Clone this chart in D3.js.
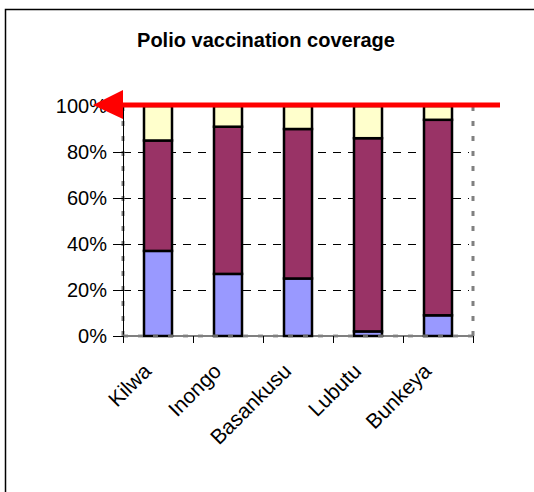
<!DOCTYPE html>
<html>
<head>
<meta charset="utf-8">
<script src="https://cdn.jsdelivr.net/npm/d3@7"></script>
<style>
  html, body { margin: 0; padding: 0; background: #fff; }
  svg { display: block; font-family: Arial, "Liberation Sans", sans-serif; }
</style>
</head>
<body>
<svg id="chart" width="534" height="492"></svg>
<script>
// Polio vaccination coverage by health zone (shares of children, %)
const districts = ["Kilwa", "Inongo", "Basankusu", "Lubutu", "Bunkeya"];
const seriesKeys = ["low", "mid", "none"];
const lowShare  = [37, 27, 25, 2, 9];
const midShare  = [48, 64, 65, 84, 85];
const noneShare = [15, 9, 10, 14, 6];
const yTicks = [0, 20, 40, 60, 80, 100];
const seriesColors = { low: "#9999FF", mid: "#993366", none: "#FFFFCC" };

const rows = districts.map((d, i) => ({
  district: d, low: lowShare[i], mid: midShare[i], none: noneShare[i]
}));

const svg = d3.select("#chart");
const W = 534, H = 492;
const plot = { left: 123, right: 473, top: 106, bottom: 336 };

svg.append("rect").attr("width", W).attr("height", H).attr("fill", "#fff");

// outer chart frame
svg.append("rect")
  .attr("x", 5.5).attr("y", 9.5)
  .attr("width", 560).attr("height", 520)
  .attr("fill", "none").attr("stroke", "#000").attr("stroke-width", 1.5);

svg.append("text")
  .attr("x", 266).attr("y", 47)
  .attr("text-anchor", "middle")
  .attr("font-size", 20).attr("font-weight", "bold")
  .text("Polio vaccination coverage");

const x = d3.scaleBand()
  .domain(districts)
  .range([plot.left, plot.right])
  .paddingInner(0.6).paddingOuter(0.3);

const y = d3.scaleLinear().domain([0, 100]).range([plot.bottom, plot.top]);

// horizontal gridlines
svg.append("g").selectAll("line")
  .data(yTicks.filter(t => t > 0 && t < 100))
  .join("line")
  .attr("x1", plot.left).attr("x2", plot.right - 4)
  .attr("y1", d => Math.round(y(d)) + 0.5).attr("y2", d => Math.round(y(d)) + 0.5)
  .attr("stroke", "#000").attr("stroke-width", 1)
  .attr("stroke-dasharray", "8,7");

// stacked bars
const stacked = d3.stack().keys(seriesKeys)(rows);
svg.append("g").selectAll("g")
  .data(stacked)
  .join("g")
  .attr("fill", d => seriesColors[d.key])
  .selectAll("rect")
  .data(d => d)
  .join("rect")
  .attr("x", d => x(d.data.district))
  .attr("width", x.bandwidth())
  .attr("y", d => y(d[1]))
  .attr("height", d => y(d[0]) - y(d[1]))
  .attr("stroke", "#000").attr("stroke-width", 2.5);

// plot-area frame (grey dashed)
const frame = svg.append("g")
  .attr("fill", "none").attr("stroke", "#808080")
  .attr("stroke-width", 3).attr("stroke-dasharray", "5,10");
frame.append("line").attr("x1", plot.right).attr("x2", plot.right)
  .attr("y1", plot.top).attr("y2", plot.bottom);

// value axis
const yAxis = svg.append("g")
  .attr("transform", `translate(${plot.left},0)`)
  .call(d3.axisLeft(y).tickValues(yTicks).tickFormat(d => d + "%")
    .tickSize(10).tickPadding(6));
yAxis.select(".domain").attr("stroke", "#000");
yAxis.selectAll("text").attr("font-size", 20).attr("fill", "#000")
  .attr("font-family", "Arial, 'Liberation Sans', sans-serif");

frame.append("line").attr("x1", plot.left).attr("x2", plot.left)
  .attr("y1", plot.top).attr("y2", plot.bottom + 3);

// category axis
const xAxis = svg.append("g")
  .attr("transform", `translate(0,${plot.bottom})`);
xAxis.append("line")
  .attr("x1", plot.left).attr("x2", plot.right)
  .attr("stroke", "#000").attr("stroke-width", 1);
xAxis.append("line")
  .attr("x1", plot.left).attr("x2", plot.right)
  .attr("stroke", "#808080").attr("stroke-width", 3)
  .attr("stroke-dasharray", "5,10").attr("opacity", 0.8);
const bounds = districts.map(d => x(d) - x.step() * 0.3).concat([plot.right]);
xAxis.selectAll(".tick")
  .data(bounds)
  .join("line")
  .attr("x1", d => Math.round(d) + 0.5).attr("x2", d => Math.round(d) + 0.5)
  .attr("y1", 0).attr("y2", 7)
  .attr("stroke", "#000");
xAxis.selectAll("text")
  .data(districts)
  .join("text")
  .attr("transform", d => `translate(${x(d) + x.bandwidth() / 2 - 16},${26}) rotate(-45)`)
  .attr("text-anchor", "end")
  .attr("dy", "0.7em")
  .attr("font-size", 21)
  .text(d => d);

// red marker arrow at the 100% level
const arrowY = y(100) - 1;
svg.append("line")
  .attr("x1", 120).attr("x2", 500)
  .attr("y1", arrowY).attr("y2", arrowY)
  .attr("stroke", "#FF0000").attr("stroke-width", 5);
svg.append("path")
  .attr("d", `M93,${arrowY} L123,${arrowY - 15} L123,${arrowY + 14} Z`)
  .attr("fill", "#FF0000");
</script>
</body>
</html>
